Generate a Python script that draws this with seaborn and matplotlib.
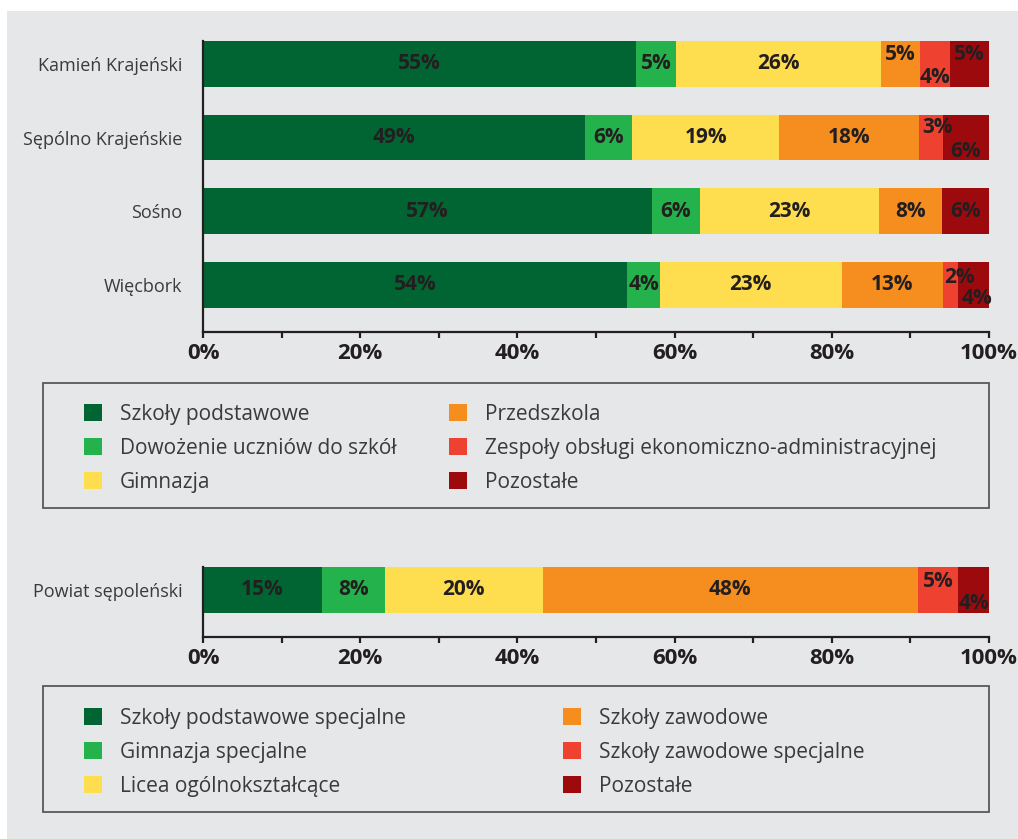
import matplotlib
matplotlib.use("Agg")
import matplotlib.pyplot as plt
import seaborn as sns
import numpy as np
from matplotlib.patches import Rectangle, Patch

# ---------------- data ----------------
gminy = ["Kamień Krajeński", "Sępólno Krajeńskie", "Sośno", "Więcbork"]
gminy_series = ["Szkoły podstawowe", "Dowożenie uczniów do szkół", "Gimnazja",
                "Przedszkola", "Zespoły obsługi ekonomiczno-administracyjnej", "Pozostałe"]
szkoly_podstawowe = [55.1, 48.6, 57.1, 54.0]
dowozenie = [5.1, 6.0, 6.1, 4.1]
gimnazja = [26.0, 18.7, 22.8, 23.2]
przedszkola = [5.0, 17.8, 8.0, 12.8]
zespoly = [3.9, 3.0, 0.0, 2.0]
pozostale_gminy = [4.9, 5.9, 6.0, 3.9]

powiat = ["Powiat sępoleński"]
powiat_series = ["Szkoły podstawowe specjalne", "Gimnazja specjalne", "Licea ogólnokształcące",
                 "Szkoły zawodowe", "Szkoły zawodowe specjalne", "Pozostałe"]
sp_specjalne = [15.1]
gim_specjalne = [8.0]
licea = [20.1]
zawodowe = [47.8]
zawodowe_specjalne = [5.1]
pozostale_powiat = [3.9]

x_ticks = [0, 20, 40, 60, 80, 100]
x_tick_labels = ["0%", "20%", "40%", "60%", "80%", "100%"]

# ---------------- style ----------------
colors = ["#006532", "#23b24b", "#fedd4e", "#f58e1f", "#ef4130", "#9d0a0e"]
bg = "#e6e7e9"
dark = "#231f20"
textgray = "#3a3a3a"

# label placement tweaks (category units / percent units) for crowded segments
label_dy = {(0, 3): -0.12, (0, 4): 0.19, (0, 5): -0.12,
            (1, 4): -0.13, (1, 5): 0.19,
            (3, 4): -0.10, (3, 5): 0.19}
label_dx = {(1, 4): 0.8, (3, 4): 1.1, (3, 5): 0.4}
label_dy_p = {(0, 4): -0.11, (0, 5): 0.18}

sns.set_style("ticks")
plt.rcParams["font.family"] = ["Open Sans", "DejaVu Sans"]

W, H = 1018, 839
fig = plt.figure(figsize=(W / 100, H / 100), dpi=100, facecolor="white")
fig.patches.append(Rectangle((7 / W, 0), 1 - 7 / W, 1 - 11 / H, transform=fig.transFigure,
                             facecolor=bg, edgecolor="none", zorder=-10))


def fig_rect(x0, y0, x1, y1):
    return [x0 / W, 1 - y1 / H, (x1 - x0) / W, (y1 - y0) / H]


def stacked(ax, cats, series, dy, dx):
    n = len(cats)
    arr = np.array(series)
    cum = np.cumsum(arr, axis=0)
    for k in range(len(series) - 1, -1, -1):
        sns.barplot(x=cum[k], y=cats, color=colors[k], orient="h", width=0.62,
                    saturation=1, errorbar=None, linewidth=0, ax=ax)
    starts = cum - arr
    for k in range(len(series)):
        for i in range(n):
            v = arr[k][i]
            if v <= 0:
                continue
            ax.text(starts[k][i] + v / 2 + dx.get((i, k), 0), i + dy.get((i, k), 0),
                    f"{round(v):.0f}%", ha="center", va="center", fontsize=15,
                    fontweight="bold", color=dark, zorder=5)
    ax.set_xlim(0, 100)
    ax.set_ylim(n - 1 + 0.64, -0.31)
    ax.set_facecolor("none")
    ax.set_xlabel("")
    ax.set_ylabel("")
    for s in ["top", "right"]:
        ax.spines[s].set_visible(False)
    for s in ["left", "bottom"]:
        ax.spines[s].set_linewidth(1.6)
        ax.spines[s].set_color(dark)
    ax.set_xticks(x_ticks)
    ax.set_xticklabels(x_tick_labels, fontsize=16, fontweight="bold", color=dark)
    ax.set_xticks([10, 30, 50, 70, 90], minor=True)
    ax.tick_params(axis="x", which="both", length=4, width=1.6, color=dark, pad=4)
    ax.tick_params(axis="y", length=0, pad=15)
    for t in ax.get_yticklabels():
        t.set_fontsize(13)
        t.set_color(textgray)


ax1 = fig.add_axes(fig_rect(203, 41, 989, 332))
stacked(ax1, gminy, [szkoly_podstawowe, dowozenie, gimnazja, przedszkola, zespoly, pozostale_gminy],
        label_dy, label_dx)

ax2 = fig.add_axes(fig_rect(203, 567, 989, 637))
stacked(ax2, powiat, [sp_specjalne, gim_specjalne, licea, zawodowe, zawodowe_specjalne, pozostale_powiat],
        label_dy_p, {})

# ---------------- legends ----------------
for (x0, y0, x1, y1) in [(43, 383, 989, 508), (43, 686, 989, 812)]:
    fig.patches.append(Rectangle((x0 / W, 1 - y1 / H), (x1 - x0) / W, (y1 - y0) / H,
                                 transform=fig.transFigure, facecolor="none",
                                 edgecolor="#58595b", linewidth=1.3))

leg_fs = 15


def column_legend(labels, cols, x, y_first_center):
    handles = [Patch(facecolor=c, edgecolor="none") for c in cols]
    lg = fig.legend(handles, labels, loc="upper left",
                    bbox_to_anchor=(x / W, 1 - (y_first_center - 8) / H),
                    bbox_transform=fig.transFigure, frameon=False, fontsize=leg_fs,
                    handlelength=0.87, handleheight=0.87, handletextpad=0.85,
                    labelspacing=0.62, borderpad=0, borderaxespad=0)
    for t in lg.get_texts():
        t.set_color(textgray)
    return lg


column_legend(gminy_series[:3], colors[:3], 84, 412)
column_legend(gminy_series[3:], colors[3:], 449, 412)
column_legend(powiat_series[:3], colors[:3], 84, 716)
column_legend(powiat_series[3:], colors[3:], 563, 716)

fig.savefig("out.png", dpi=100, facecolor="white")
